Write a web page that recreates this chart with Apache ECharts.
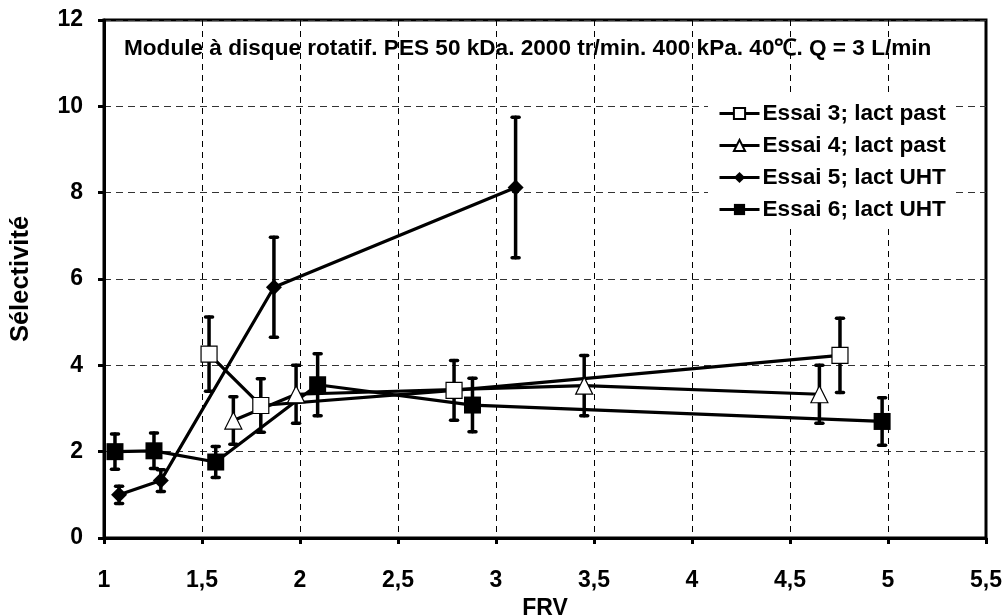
<!DOCTYPE html>
<html><head><meta charset="utf-8">
<script src="https://cdn.jsdelivr.net/npm/echarts@6/dist/echarts.min.js"></script>
<style>html,body{margin:0;padding:0;background:#fff}#c{width:1007px;height:615px}</style>
</head><body><div id="c"></div>
<script>
const titleText = 'Module à disque rotatif. PES 50 kDa. 2000 tr/min. 400 kPa. 40℃. Q = 3 L/min';
const xName = 'FRV';
const yName = 'Sélectivité';
const seriesNames = ['Essai 3; lact past', 'Essai 4; lact past', 'Essai 5; lact UHT', 'Essai 6; lact UHT'];
// FRV, selectivity, error (±)
const e3x = [1.536, 1.80, 2.786, 4.755];
const e3y = [4.26, 3.07, 3.42, 4.23];
const e3err = [0.86, 0.62, 0.69, 0.86];
const e4x = [1.66, 1.98, 3.45, 4.65];
const e4y = [2.72, 3.33, 3.53, 3.33];
const e4err = [0.55, 0.67, 0.70, 0.67];
const e5x = [1.077, 1.29, 1.867, 3.10];
const e5y = [1.00, 1.33, 5.81, 8.12];
const e5err = [0.20, 0.25, 1.16, 1.63];
const e6x = [1.056, 1.255, 1.57, 2.09, 2.88, 4.97];
const e6y = [2.00, 2.02, 1.76, 3.55, 3.08, 2.70];
const e6err = [0.41, 0.41, 0.36, 0.72, 0.62, 0.55];

const xs = [e3x, e4x, e5x, e6x], ys = [e3y, e4y, e5y, e6y], errs = [e3err, e4err, e5err, e6err];
const symbols = ['rect', 'triangle', 'diamond', 'rect'];
const sizes = [16, 17, 16, 17];
const fills = ['#fff', '#fff', '#000', '#000'];

const FONT = 'Liberation Sans, Arial, sans-serif';
const series = [];
for (let i = 0; i < 4; i++) {
  series.push({
    type: 'custom', name: seriesNames[i] + ' err', silent: true, z: 2,
    data: xs[i].map((x, k) => [x, ys[i][k] - errs[i][k], ys[i][k] + errs[i][k]]),
    renderItem: function (params, api) {
      const lo = api.coord([api.value(0), api.value(1)]);
      const hi = api.coord([api.value(0), api.value(2)]);
      const w = 3.5;
      const st = { stroke: '#000', lineWidth: 3.5, lineCap: 'round' };
      return { type: 'group', children: [
        { type: 'line', shape: { x1: lo[0], y1: lo[1], x2: hi[0], y2: hi[1] }, style: st },
        { type: 'line', shape: { x1: lo[0] - w, y1: lo[1], x2: lo[0] + w, y2: lo[1] }, style: st },
        { type: 'line', shape: { x1: hi[0] - w, y1: hi[1], x2: hi[0] + w, y2: hi[1] }, style: st }
      ]};
    }
  });
}
for (let i = 0; i < 4; i++) {
  series.push({
    type: 'line', name: seriesNames[i], z: 3,
    data: xs[i].map((x, k) => [x, ys[i][k]]),
    symbol: symbols[i], symbolSize: sizes[i], showAllSymbol: true,
    lineStyle: { color: '#000', width: 3.2 },
    itemStyle: { color: fills[i], borderColor: '#000', borderWidth: i < 2 ? 1.2 : 0 },
    emphasis: { disabled: true }, animation: false
  });
}

const chart = echarts.init(document.getElementById('c'), null, { renderer: 'canvas' });
chart.setOption({
  animation: false,
  backgroundColor: '#fff',
  title: { text: titleText, left: 119, top: 32, textStyle: { fontFamily: FONT, fontWeight: 'bold', fontSize: 22.6, color: '#000' } },
  legend: {
    data: seriesNames, orient: 'vertical', left: 708, top: 96,
    itemWidth: 40, itemHeight: 14, itemGap: 9,
    backgroundColor: '#fff', padding: [6, 6, 6, 10],
    lineStyle: { width: 3 },
    textStyle: { fontFamily: FONT, fontWeight: 'bold', fontSize: 22.6, lineHeight: 22, color: '#000', padding: [0, 0, 0, -2] }
  },
  grid: { left: 104, right: 21, top: 20, bottom: 77, show: true, borderColor: '#000', borderWidth: 3, containLabel: false, outerBoundsMode: 'none' },
  xAxis: {
    type: 'value', min: 1, max: 5.5, interval: 0.5,
    name: xName, nameLocation: 'middle', nameGap: 58,
    nameTextStyle: { fontFamily: FONT, fontWeight: 'bold', fontSize: 23, color: '#000' },
    axisLine: { lineStyle: { color: '#000', width: 3 } },
    axisTick: { show: true, length: 6, lineStyle: { color: '#000', width: 3 } },
    axisLabel: { fontFamily: FONT, fontWeight: 'bold', fontSize: 23, color: '#000', margin: 31, formatter: v => String(v).replace('.', ',') },
    splitLine: { show: true, lineStyle: { color: '#000', width: 1, type: [6, 5] } }
  },
  yAxis: {
    type: 'value', min: 0, max: 12, interval: 2,
    name: yName, nameLocation: 'middle', nameGap: 70,
    nameTextStyle: { fontFamily: FONT, fontWeight: 'bold', fontSize: 25.5, color: '#000' },
    axisLine: { lineStyle: { color: '#000', width: 3 } },
    axisTick: { show: true, length: 6, lineStyle: { color: '#000', width: 3 } },
    axisLabel: { fontFamily: FONT, fontWeight: 'bold', fontSize: 23, color: '#000', margin: 21 },
    splitLine: { show: true, lineStyle: { color: '#333', width: 1, type: [7, 5] } }
  },
  series: series
});
</script></body></html>
